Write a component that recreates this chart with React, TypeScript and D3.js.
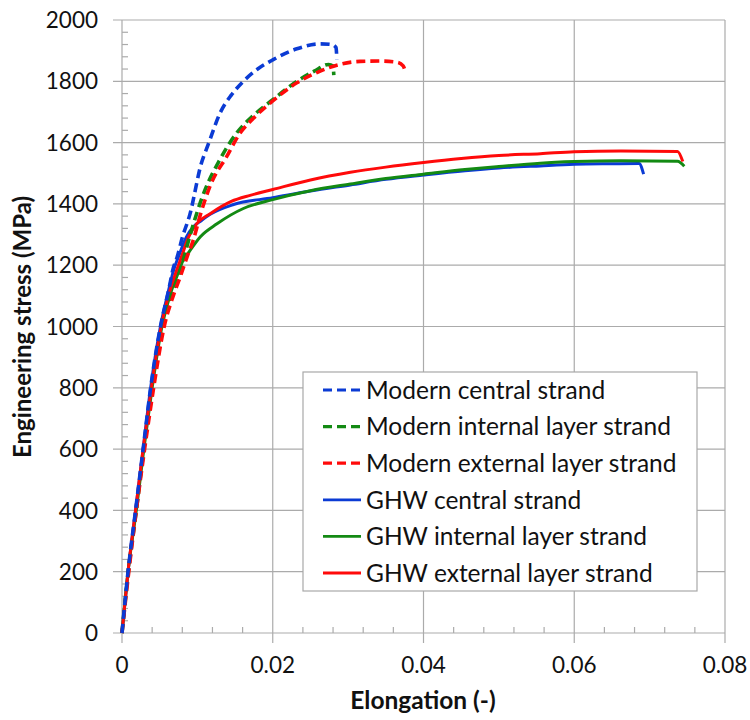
import React from 'react';
import * as d3 from 'd3';

// elongation (-), stress (MPa)
const modernCentral: [number, number][] = [
  [0, 0], [0.0008, 200], [0.0018, 400], [0.0028, 600], [0.0038, 800], [0.0051, 1000],
  [0.0062, 1120], [0.0068, 1190], [0.0073, 1225], [0.008, 1290], [0.009, 1365], [0.0105, 1530],
  [0.0115, 1598], [0.013, 1696], [0.0145, 1755], [0.0161, 1800], [0.018, 1840], [0.02, 1870],
  [0.0232, 1906], [0.0263, 1922], [0.0278, 1920], [0.0284, 1910], [0.0285, 1872],
];
const modernInternal: [number, number][] = [
  [0, 0], [0.0008, 190], [0.0019, 400], [0.0029, 600], [0.004, 800], [0.0053, 1000],
  [0.0065, 1100], [0.0073, 1150], [0.0081, 1215], [0.009, 1295], [0.011, 1445], [0.013, 1545],
  [0.0152, 1631], [0.0175, 1690], [0.02, 1740], [0.0232, 1800], [0.0255, 1833], [0.0274, 1855],
  [0.028, 1850], [0.0281, 1820],
];
const modernExternal: [number, number][] = [
  [0, 0], [0.0009, 200], [0.0019, 400], [0.003, 600], [0.0042, 800], [0.0056, 1000],
  [0.0068, 1100], [0.0077, 1160], [0.0086, 1225], [0.0095, 1285], [0.0104, 1365], [0.0118, 1465],
  [0.0139, 1555], [0.0155, 1625], [0.0178, 1688], [0.02, 1736], [0.0232, 1795], [0.026, 1830],
  [0.029, 1856], [0.0316, 1865], [0.0343, 1866], [0.0365, 1862], [0.0373, 1850], [0.0376, 1832],
];
const ghwCentral: [number, number][] = [
  [0, 0], [0.0008, 200], [0.0018, 400], [0.0028, 600], [0.0038, 800], [0.0051, 1000],
  [0.0062, 1120], [0.0068, 1180], [0.0075, 1228], [0.0085, 1290], [0.0095, 1326], [0.0105, 1345],
  [0.0117, 1366], [0.0148, 1398], [0.02, 1420], [0.025, 1442], [0.0303, 1462], [0.035, 1480],
  [0.04, 1494], [0.0455, 1508], [0.05, 1517], [0.0555, 1524], [0.06, 1529], [0.065, 1531],
  [0.0686, 1532], [0.0692, 1497],
];
const ghwInternal: [number, number][] = [
  [0, 0], [0.0008, 200], [0.0019, 400], [0.0029, 600], [0.004, 800], [0.0053, 1000],
  [0.0066, 1120], [0.0073, 1165], [0.0081, 1215], [0.0088, 1240], [0.0104, 1293], [0.0126, 1335],
  [0.0161, 1385], [0.02, 1414], [0.025, 1443], [0.0303, 1465], [0.035, 1483], [0.04, 1497],
  [0.0455, 1512], [0.05, 1522], [0.0555, 1533], [0.06, 1538], [0.0662, 1541], [0.0737, 1539],
  [0.0746, 1523],
];
const ghwExternal: [number, number][] = [
  [0, 0], [0.0008, 200], [0.0018, 400], [0.0028, 600], [0.0039, 800], [0.0052, 1000],
  [0.0064, 1120], [0.0072, 1180], [0.0079, 1228], [0.0088, 1290], [0.0099, 1335], [0.0117, 1368],
  [0.0145, 1408], [0.017, 1428], [0.02, 1447], [0.025, 1478], [0.0303, 1503], [0.035, 1520],
  [0.04, 1535], [0.045, 1548], [0.05, 1558], [0.0555, 1564], [0.06, 1570], [0.0662, 1573],
  [0.0737, 1571], [0.0744, 1538],
];

const seriesNames = [
  'Modern central strand',
  'Modern internal layer strand',
  'Modern external layer strand',
  'GHW central strand',
  'GHW internal layer strand',
  'GHW external layer strand',
];
const xTicks = [0, 0.02, 0.04, 0.06, 0.08];
const yTicks = [0, 200, 400, 600, 800, 1000, 1200, 1400, 1600, 1800, 2000];

const BLUE = '#0b3bd4';
const GREEN = '#138a13';
const RED = '#ff0a0a';

const series = [
  { name: seriesNames[0], data: modernCentral, color: BLUE, dashed: true },
  { name: seriesNames[1], data: modernInternal, color: GREEN, dashed: true },
  { name: seriesNames[2], data: modernExternal, color: RED, dashed: true },
  { name: seriesNames[3], data: ghwCentral, color: BLUE, dashed: false },
  { name: seriesNames[4], data: ghwInternal, color: GREEN, dashed: false },
  { name: seriesNames[5], data: ghwExternal, color: RED, dashed: false },
];

const FONT = 'Lato, "Open Sans", sans-serif';
const GRID = '#ababab';

export default function App() {
  const x = d3.scaleLinear().domain([0, 0.08]).range([122, 725]);
  const y = d3.scaleLinear().domain([0, 2000]).range([633, 20]);
  const line = d3.line<[number, number]>()
    .x(d => x(d[0]))
    .y(d => y(d[1]))
    .curve(d3.curveMonotoneX);

  const xMinor = d3.range(0, 0.0801, 0.004).filter((_, i) => i % 5 !== 0);
  const yMinor = d3.range(0, 2001, 40).filter((_, i) => i % 5 !== 0);

  // solid ones under the dashed ones, as in the figure
  const drawOrder = [3, 4, 5, 1, 2, 0];

  const lg = { x: 303, y: 372, w: 394, h: 219, row0: 390, step: 36.6 };

  return (
    <svg width={750} height={720} style={{ position: 'absolute', left: 0, top: 0, background: '#fff' }}
      fontFamily={FONT}>
      {/* grid */}
      {yTicks.map(t => (
        <line key={'gy' + t} x1={113} x2={725} y1={y(t)} y2={y(t)} stroke={GRID} strokeWidth={1.2} />
      ))}
      {xTicks.map(t => (
        <line key={'gx' + t} x1={x(t)} x2={x(t)} y1={20} y2={643} stroke={GRID} strokeWidth={1.2} />
      ))}
      {/* minor ticks */}
      {yMinor.map(t => (
        <line key={'my' + t} x1={122} x2={128} y1={y(t)} y2={y(t)} stroke={GRID} strokeWidth={1.2} />
      ))}
      {xMinor.map(t => (
        <line key={'mx' + t} x1={x(t)} x2={x(t)} y1={633} y2={627} stroke={GRID} strokeWidth={1.2} />
      ))}

      {/* tick labels */}
      {yTicks.map(t => (
        <text key={'ly' + t} x={98} y={y(t)} dy="0.36em" textAnchor="end" fontSize={22.5} fill="#111">{t}</text>
      ))}
      {xTicks.map(t => (
        <text key={'lx' + t} x={x(t)} y={673} textAnchor="middle" fontSize={22.5} fill="#111">{t === 0 ? '0' : String(t)}</text>
      ))}

      {/* axis titles */}
      <text x={423} y={709} textAnchor="middle" fontSize={24.5} fontWeight="bold" fill="#111">Elongation (-)</text>
      <text transform="translate(31,327) rotate(-90)" textAnchor="middle" fontSize={24} fontWeight="bold" fill="#111">
        Engineering stress (MPa)
      </text>

      {/* curves */}
      {drawOrder.map(i => {
        const s = series[i];
        return (
          <path key={s.name} d={line(s.data) || ''} fill="none" stroke={s.color}
            strokeWidth={s.dashed ? 3.6 : 3}
            strokeDasharray={s.dashed ? '9,5' : undefined}
            strokeLinejoin="round" />
        );
      })}

      {/* legend */}
      <rect x={lg.x} y={lg.y} width={lg.w} height={lg.h} fill="#fff" stroke="#a8a8a8" strokeWidth={1.2} />
      {series.map((s, i) => {
        const cy = lg.row0 + i * lg.step;
        return (
          <g key={'lg' + i}>
            <line x1={323} x2={361} y1={cy} y2={cy} stroke={s.color}
              strokeWidth={s.dashed ? 3.2 : 2.8} strokeDasharray={s.dashed ? '9,5' : undefined} />
            <text x={366} y={cy} dy="0.36em" fontSize={24.5} fill="#111">{s.name}</text>
          </g>
        );
      })}
    </svg>
  );
}
